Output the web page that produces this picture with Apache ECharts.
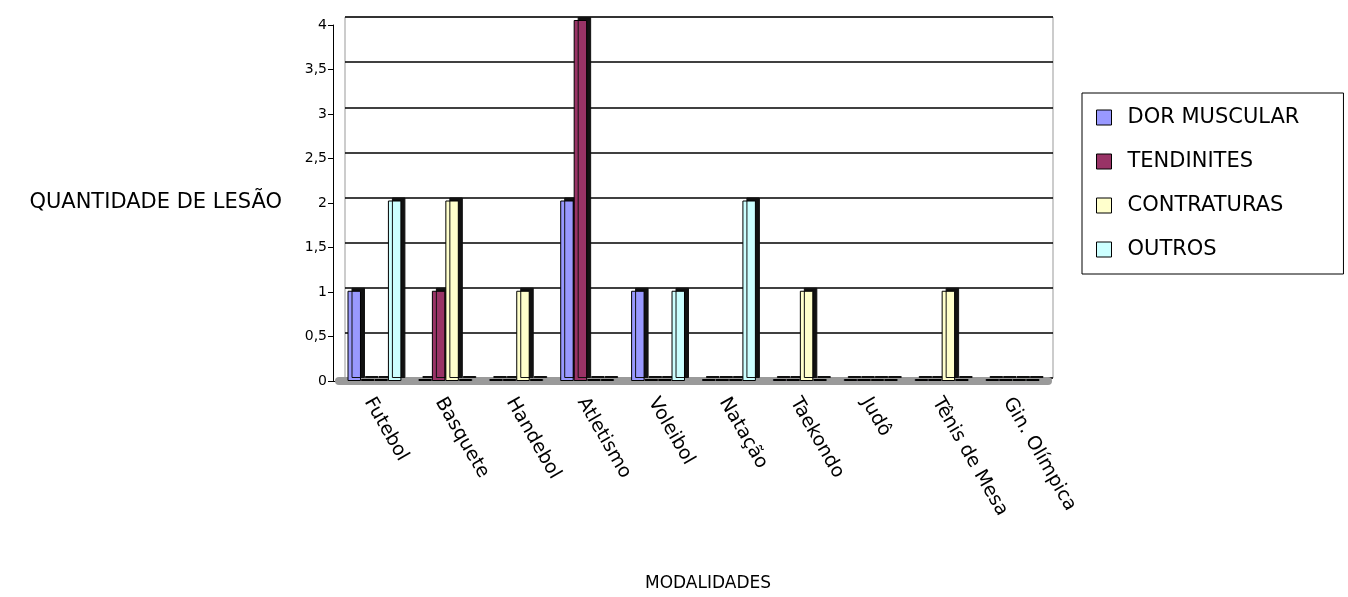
<!DOCTYPE html>
<html>
<head>
<meta charset="utf-8">
<script src="https://cdn.jsdelivr.net/npm/echarts@6/dist/echarts.min.js"></script>
<style>
  html, body { margin: 0; padding: 0; background: #fff; }
  #chart { width: 1348px; height: 597px; }
</style>
</head>
<body>
<div id="chart"></div>
<script>
// modalidades
const categorias = ['Futebol', 'Basquete', 'Handebol', 'Atletismo', 'Voleibol', 'Natação', 'Taekondo', 'Judô', 'Tênis de Mesa', 'Gin. Olímpica'];
// lesões por modalidade
const dorMuscular = [1, 0, 0, 2, 1, 0, 0, 0, 0, 0];
const tendinites  = [0, 1, 0, 4, 0, 0, 0, 0, 0, 0];
const contraturas = [0, 2, 1, 0, 0, 0, 1, 0, 1, 0];
const outros      = [2, 0, 0, 0, 1, 2, 0, 0, 0, 0];
const rotulosY = ['0', '0,5', '1', '1,5', '2', '2,5', '3', '3,5', '4'];

const fonte = 'DejaVu Sans';
const chart = echarts.init(document.getElementById('chart'));

function barra(nome, dados, cor) {
    return {
        name: nome,
        type: 'bar',
        xAxisIndex: 2,
        yAxisIndex: 2,
        data: dados,
        barGap: '0%',
        barCategoryGap: '24%',
        barMinHeight: 2,
        itemStyle: {
            color: cor,
            borderColor: '#000',
            borderWidth: 1,
            shadowColor: '#111',
            shadowBlur: 0,
            shadowOffsetX: 4,
            shadowOffsetY: -3
        }
    };
}

const option = {
    backgroundColor: '#fff',
    animation: false,
    grid: [
        // parede do fundo
        { left: 345, top: 17, width: 708, height: 361, show: true, borderColor: '#999', borderWidth: 1, backgroundColor: '#fff' },
        // eixos da frente
        { left: 333, top: 25, width: 710, height: 363 },
        // barras
        { left: 339, top: 20, width: 709, height: 361 }
    ],
    legend: {
        orient: 'vertical',
        left: 1082,
        top: 93,
        padding: [14, 44, 14, 14],
        itemGap: 23,
        itemWidth: 15,
        itemHeight: 15,
        icon: 'rect',
        borderColor: '#000',
        borderWidth: 1,
        itemStyle: { borderColor: '#000', borderWidth: 1, shadowBlur: 0, shadowOffsetX: 0, shadowOffsetY: 0, shadowColor: 'rgba(0,0,0,0)' },
        textStyle: { fontFamily: fonte, fontSize: 21, color: '#000', padding: [0, 0, 0, 11] },
        data: ['DOR MUSCULAR', 'TENDINITES', 'CONTRATURAS', 'OUTROS']
    },
    xAxis: [
        { gridIndex: 0, type: 'category', data: categorias, show: false },
        {
            gridIndex: 1,
            type: 'category',
            data: categorias,
            axisLine: { lineStyle: { color: '#000', width: 1 } },
            axisTick: { length: 5, lineStyle: { color: '#000' } },
            axisLabel: { rotate: -60, margin: 18, color: '#000', fontFamily: fonte, fontSize: 19, interval: 0 },
            name: 'MODALIDADES',
            nameLocation: 'middle',
            nameGap: 194,
            nameTextStyle: { fontFamily: fonte, fontSize: 17, color: '#000', padding: [0, 0, 0, 40] }
        },
        {
            gridIndex: 2,
            type: 'category',
            data: categorias,
            axisLine: { lineStyle: { color: '#9a9a9a', width: 8 } },
            axisTick: { show: false },
            axisLabel: { show: false }
        }
    ],
    yAxis: [
        {
            gridIndex: 0, type: 'value', min: 0, max: 4, interval: 0.5,
            axisLine: { show: false }, axisTick: { show: false }, axisLabel: { show: false },
            splitLine: { lineStyle: { color: '#000', width: 1.5 } }
        },
        {
            gridIndex: 1, type: 'value', min: 0, max: 4, interval: 0.5,
            axisLine: { show: true, lineStyle: { color: '#000', width: 1 } },
            axisTick: { show: true, length: 5, lineStyle: { color: '#000' } },
            axisLabel: { color: '#000', fontFamily: fonte, fontSize: 14, margin: 6, formatter: v => rotulosY[Math.round(v * 2)] },
            splitLine: { show: false },
            name: 'QUANTIDADE DE LESÃO',
            nameLocation: 'middle',
            nameRotate: 0,
            nameGap: 51,
            nameTextStyle: { fontFamily: fonte, fontSize: 21, color: '#000' }
        },
        { gridIndex: 2, type: 'value', min: 0, max: 4, show: false, splitLine: { show: false } }
    ],
    series: [
        barra('DOR MUSCULAR', dorMuscular, '#9999ff'),
        barra('TENDINITES', tendinites, '#993366'),
        barra('CONTRATURAS', contraturas, '#ffffcc'),
        barra('OUTROS', outros, '#ccffff')
    ]
};

chart.setOption(option);
</script>
</body>
</html>
